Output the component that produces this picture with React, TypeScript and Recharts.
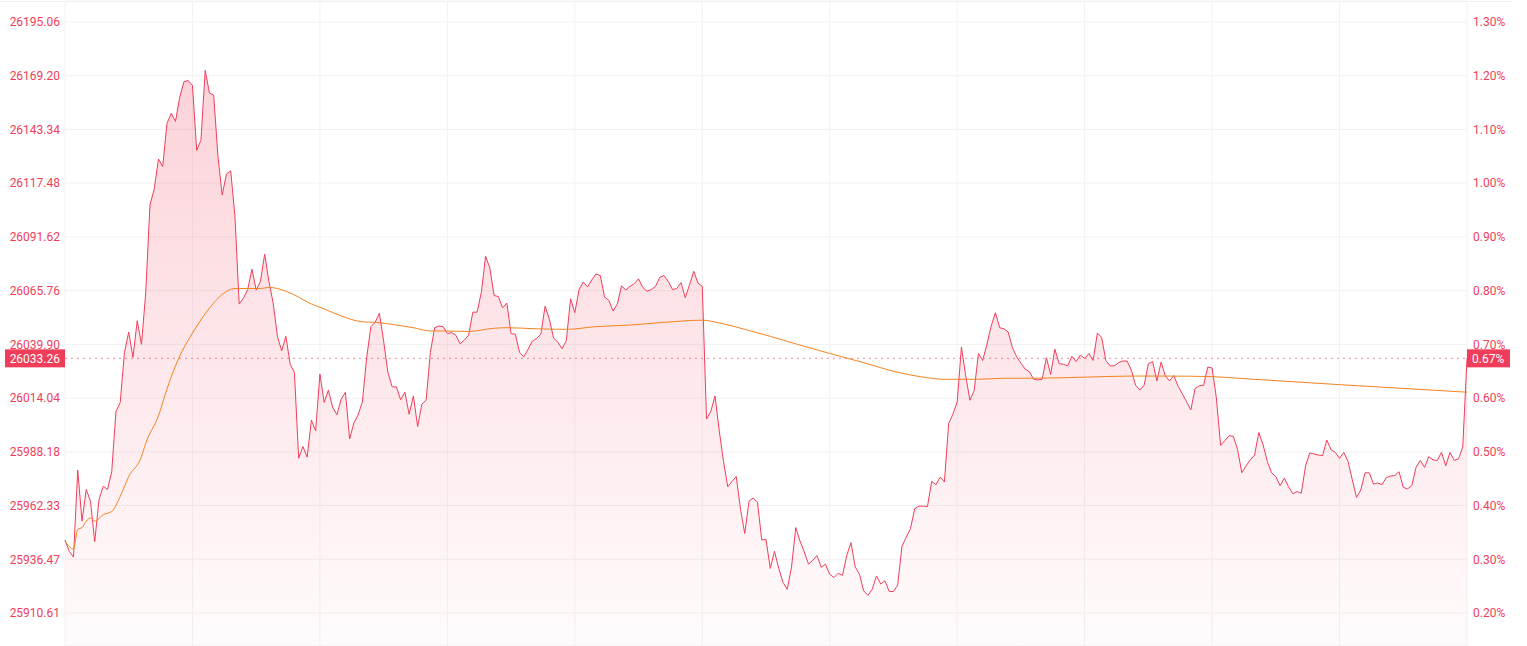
import {
  ComposedChart,
  Area,
  Line,
  XAxis,
  YAxis,
  CartesianGrid,
  ReferenceLine
} from 'recharts'

// previous close, used only for the price labels
const PREV_CLOSE = 25858.89

// change vs previous close (%), one value per minute, 09:30 -> 16:00
const pctValues = [
  0.336, 0.315, 0.304, 0.466, 0.371, 0.430, 0.408, 0.333, 0.411, 0.436,
  0.430, 0.463, 0.575, 0.592, 0.685, 0.723, 0.676, 0.744, 0.700, 0.796,
  0.960, 0.989, 1.045, 1.031, 1.111, 1.130, 1.115, 1.160, 1.189, 1.191,
  1.182, 1.061, 1.080, 1.210, 1.168, 1.164, 1.050, 0.978, 1.017, 1.023,
  0.939, 0.775, 0.786, 0.802, 0.840, 0.801, 0.817, 0.868, 0.817, 0.777,
  0.715, 0.688, 0.715, 0.663, 0.648, 0.488, 0.510, 0.490, 0.559, 0.539,
  0.645, 0.592, 0.615, 0.583, 0.569, 0.598, 0.611, 0.524, 0.554, 0.569,
  0.593, 0.675, 0.733, 0.741, 0.758, 0.706, 0.648, 0.621, 0.621, 0.597,
  0.611, 0.570, 0.604, 0.547, 0.589, 0.596, 0.685, 0.731, 0.734, 0.733,
  0.720, 0.722, 0.717, 0.701, 0.708, 0.717, 0.760, 0.760, 0.797, 0.864,
  0.842, 0.791, 0.789, 0.768, 0.777, 0.720, 0.719, 0.685, 0.677, 0.691,
  0.706, 0.711, 0.719, 0.771, 0.747, 0.712, 0.704, 0.692, 0.707, 0.785,
  0.759, 0.802, 0.816, 0.807, 0.820, 0.831, 0.828, 0.788, 0.782, 0.762,
  0.775, 0.809, 0.801, 0.808, 0.813, 0.822, 0.806, 0.799, 0.802, 0.808,
  0.825, 0.828, 0.817, 0.802, 0.804, 0.815, 0.787, 0.811, 0.836, 0.814,
  0.808, 0.561, 0.575, 0.604, 0.539, 0.482, 0.435, 0.445, 0.454, 0.393,
  0.348, 0.408, 0.414, 0.406, 0.336, 0.337, 0.283, 0.315, 0.283, 0.257,
  0.244, 0.285, 0.359, 0.334, 0.314, 0.291, 0.298, 0.307, 0.285, 0.291,
  0.272, 0.266, 0.274, 0.270, 0.307, 0.331, 0.286, 0.272, 0.241, 0.233,
  0.244, 0.269, 0.254, 0.260, 0.240, 0.240, 0.252, 0.324, 0.341, 0.357,
  0.394, 0.399, 0.399, 0.398, 0.445, 0.439, 0.453, 0.444, 0.553, 0.570,
  0.593, 0.695, 0.642, 0.596, 0.614, 0.683, 0.670, 0.700, 0.734, 0.759,
  0.731, 0.729, 0.723, 0.694, 0.677, 0.665, 0.654, 0.649, 0.635, 0.634,
  0.635, 0.675, 0.644, 0.691, 0.664, 0.663, 0.660, 0.678, 0.668, 0.680,
  0.674, 0.683, 0.670, 0.721, 0.713, 0.670, 0.660, 0.660, 0.666, 0.669,
  0.669, 0.652, 0.624, 0.615, 0.624, 0.664, 0.668, 0.632, 0.667, 0.641,
  0.632, 0.642, 0.622, 0.608, 0.593, 0.578, 0.618, 0.623, 0.624, 0.658,
  0.656, 0.601, 0.512, 0.521, 0.530, 0.529, 0.504, 0.461, 0.474, 0.485,
  0.494, 0.536, 0.513, 0.482, 0.461, 0.454, 0.437, 0.451, 0.435, 0.422,
  0.426, 0.423, 0.474, 0.498, 0.496, 0.494, 0.493, 0.522, 0.504, 0.499,
  0.488, 0.499, 0.482, 0.448, 0.415, 0.429, 0.461, 0.461, 0.440, 0.442,
  0.439, 0.452, 0.455, 0.456, 0.463, 0.434, 0.431, 0.437, 0.471, 0.484,
  0.471, 0.491, 0.485, 0.484, 0.499, 0.474, 0.499, 0.484, 0.487, 0.509,
  0.674
]

// average price line (%), read at these minutes
const avgMinutes = [
  0, 2, 3, 4, 5, 6, 7, 9, 11, 13, 15, 18, 19, 22, 24, 26, 29, 30, 33, 35,
  37, 40, 43, 46, 48, 52, 55, 57, 61, 65, 70, 73, 78, 82, 86, 89, 95, 101,
  104, 111, 118, 125, 133, 141, 150, 154, 160, 166, 172, 180, 188, 196,
  202, 207, 215, 221, 228, 240, 251, 259, 270, 276, 300, 330
]
const avgValues = [
  0.334, 0.319, 0.356, 0.359, 0.371, 0.377, 0.371, 0.383, 0.389, 0.417,
  0.454, 0.491, 0.516, 0.567, 0.617, 0.660, 0.708, 0.721, 0.757, 0.777,
  0.793, 0.804, 0.804, 0.804, 0.806, 0.799, 0.788, 0.779, 0.766, 0.753,
  0.742, 0.741, 0.736, 0.731, 0.725, 0.725, 0.724, 0.730, 0.731, 0.729,
  0.728, 0.733, 0.736, 0.741, 0.745, 0.740, 0.728, 0.715, 0.701, 0.683,
  0.666, 0.648, 0.639, 0.635, 0.635, 0.637, 0.637, 0.639, 0.641, 0.641,
  0.640, 0.637, 0.625, 0.611
]

const pctTicks = [0.2, 0.3, 0.4, 0.5, 0.6, 0.7, 0.8, 0.9, 1.0, 1.1, 1.2, 1.3]
const priceTickLabels = [
  '25910.61', '25936.47', '25962.33', '25988.18', '26014.04', '26039.90',
  '26065.76', '26091.62', '26117.48', '26143.34', '26169.20', '26195.06'
]
const minuteTicks = [0, 30, 60, 90, 120, 150, 180, 210, 240, 270, 300, 330]

const lastPriceLabel = '26033.26'
const lastPctLabel = '0.67%'

const RED = '#f03e5a'
const ORANGE = '#f5821f'
const GRID = '#f2f2f2'

const priceData = pctValues.map((pct, t) => ({ t, pct }))
const avgData = avgMinutes.map((t, i) => ({ t, avg: avgValues[i] }))
const lastPct = pctValues[pctValues.length - 1]

function LastLabel(props: any) {
  const { x, y, width } = props.viewBox
  return (
    <g>
      <rect x={x - 60} y={y - 9} width={60} height={18} fill={RED} />
      <text x={x - 5} y={y} dy="0.355em" textAnchor="end" fill="#fff" fontSize={12}>
        {lastPriceLabel}
      </text>
      <rect x={x + width} y={y - 9} width={43} height={18} fill={RED} />
      <text x={x + width + 5} y={y} dy="0.355em" fill="#fff" fontSize={12}>
        {lastPctLabel}
      </text>
    </g>
  )
}

export default function App() {
  return (
    <div
      style={{
        position: 'absolute',
        left: 0,
        top: 0,
        width: 1527,
        height: 646,
        background: '#fff',
        fontFamily: 'Roboto, sans-serif'
      }}
    >
      <div
        style={{
          position: 'absolute',
          left: 0,
          top: 1,
          width: 1512,
          height: 1,
          background: '#f0f0f0'
        }}
      />
      <ComposedChart
        width={1527}
        height={646}
        margin={{ top: 1, right: 0, bottom: 0, left: 0 }}
      >
        <defs>
          <linearGradient id="priceFill" x1="0" y1="0" x2="0" y2="1">
            <stop offset="0%" stopColor={RED} stopOpacity={0.23} />
            <stop offset="100%" stopColor={RED} stopOpacity={0.02} />
          </linearGradient>
        </defs>
        <CartesianGrid stroke={GRID} />
        <XAxis
          dataKey="t"
          type="number"
          domain={[0, 330]}
          ticks={minuteTicks}
          hide
        />
        <YAxis
          domain={[0.1386, 1.3391]}
          ticks={pctTicks}
          width={65}
          axisLine={false}
          tickLine={false}
          tickSize={0}
          tickMargin={5}
          tick={{ fill: RED, fontSize: 12 }}
          tickFormatter={(v: number) => priceTickLabels[pctTicks.indexOf(v)]}
          allowDataOverflow
        />
        <YAxis
          yAxisId="right"
          orientation="right"
          domain={[0.1386, 1.3391]}
          ticks={pctTicks}
          width={60}
          axisLine={false}
          tickLine={false}
          tickSize={0}
          tickMargin={6}
          tick={{ fill: RED, fontSize: 12 }}
          tickFormatter={(v: number) => v.toFixed(2) + '%'}
          allowDataOverflow
        />
        <Area
          data={priceData}
          dataKey="pct"
          type="linear"
          stroke={RED}
          strokeWidth={1}
          fill="url(#priceFill)"
          fillOpacity={1}
          dot={false}
          activeDot={false}
          isAnimationActive={false}
        />
        <Line
          data={avgData}
          dataKey="avg"
          type="monotone"
          stroke={ORANGE}
          strokeWidth={1}
          dot={false}
          activeDot={false}
          isAnimationActive={false}
        />
        <ReferenceLine
          y={lastPct}
          stroke={RED}
          strokeOpacity={0.6}
          strokeDasharray="2 4"
          label={<LastLabel />}
        />
      </ComposedChart>
    </div>
  )
}
